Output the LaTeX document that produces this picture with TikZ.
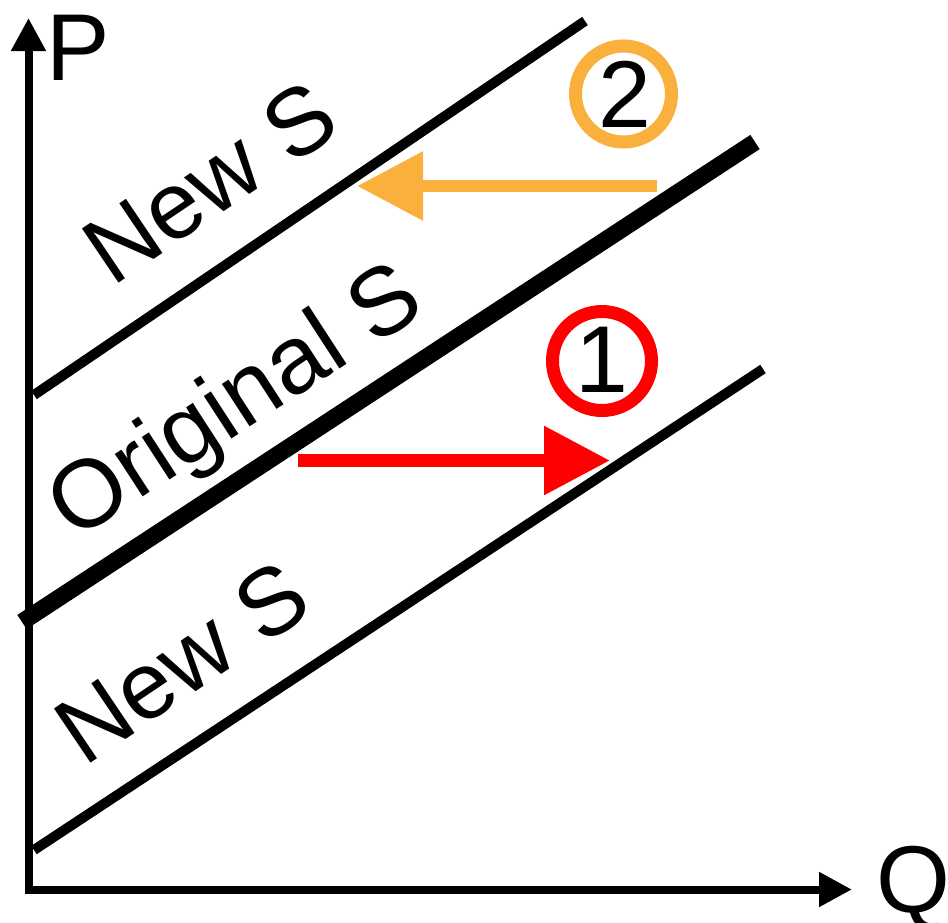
\documentclass[tikz,border=0pt]{standalone}
\usepackage{fontspec}
\setmainfont{Liberation Sans}
\usetikzlibrary{arrows.meta}
\definecolor{myorange}{RGB}{250,176,60}
\definecolor{myred}{RGB}{255,0,0}
\begin{document}
\begin{tikzpicture}[x=1pt,y=-1pt,
  lbl/.style={font=\fontsize{95}{95}\selectfont, inner sep=0pt, outer sep=0pt},
  axis/.style={line width=8pt, -{Triangle[length=33pt,width=33pt]}},
  curve/.style={line width=10pt},
  thickcurve/.style={line width=17pt},
  shiftarrow/.style={line width=12.5pt, -{Triangle[length=66pt,width=66pt]}},
  ring/.style={line width=13pt}]
\useasboundingbox (0,0) rectangle (948,922);
% axes
\coordinate (o1) at (28.5,893);
\coordinate (ptip) at (28.5,18);
\coordinate (o2) at (24.5,889.5);
\coordinate (qtip) at (852,889.5);
\draw[axis] (o1) -- (ptip);
\draw[axis] (o2) -- (qtip);
\node[lbl, anchor=base west] (P) at (46,80) {P};
\node[lbl, anchor=base west] (Q) at (876,912) {Q};
% supply curves
\coordinate (t1) at (34,395);
\coordinate (t2) at (585,21);
\coordinate (m1) at (22,622);
\coordinate (m2) at (755,142);
\coordinate (b1) at (34,850);
\coordinate (b2) at (763,369);
\draw[curve] (t1) -- (t2);
\draw[thickcurve] (m1) -- (m2);
\draw[curve] (b1) -- (b2);
% labels
\node[lbl, anchor=base west, rotate=34] (ltop) at (112,287) {New S};
\node[lbl, font=\fontsize{96}{96}\selectfont, anchor=base west, rotate=33] (lmid) at (74.6,541.3) {Original S};
\node[lbl, anchor=base west, rotate=34] (lbot) at (84,767) {New S};
% shift arrows
\coordinate (oa1) at (657,186);
\coordinate (oa2) at (357,186);
\draw[shiftarrow, myorange] (oa1) -- (oa2);
\coordinate (ra1) at (298,460.5);
\coordinate (ra2) at (610,460.5);
\draw[shiftarrow, myred] (ra1) -- (ra2);
% numbered circles
\draw[ring, myorange] (623.5,94) circle (48);
\node[lbl, anchor=base] (n2) at (625,127) {2};
\draw[ring, myred] (602,361) circle (49.5);
\node[lbl, anchor=base] (n1) at (602,392) {1};
\end{tikzpicture}
\end{document}
